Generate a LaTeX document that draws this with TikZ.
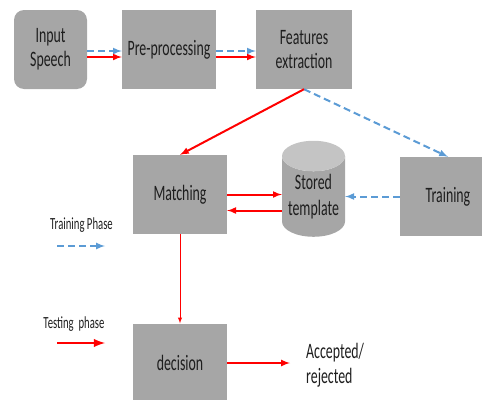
\documentclass[tikz,border=0pt]{standalone}
\usepackage{fontspec}
\setmainfont{Carlito}[FakeStretch=0.63]
\usetikzlibrary{shapes.geometric}
\definecolor{boxgray}{HTML}{A6A6A6}
\definecolor{topgray}{HTML}{C4C4C4}
\definecolor{trainblue}{HTML}{5B9BD5}
\definecolor{txtgray}{HTML}{1E1E1E}
\begin{document}
\begin{tikzpicture}[x=1pt,y=-1pt,>=latex,
    blk/.style={fill=boxgray, minimum width=94pt, minimum height=79pt, inner sep=0pt,
        align=center, text=txtgray, font=\fontsize{22}{24}\selectfont},
    test/.style={->, red, line width=2pt},
    train/.style={->, trainblue, line width=2pt, dash pattern=on 7pt off 4pt},
    legend/.style={text=txtgray, font=\fontsize{17}{19}\selectfont}]
    \useasboundingbox (0,0) rectangle (482,399);
    \clip (0,0) rectangle (482,399);
    % blocks
    \node[blk, rounded corners=10pt, minimum width=73pt] (inp) at (50.5,49.5) {Input\\Speech};
    \node[blk] (pre) at (169,49.5) {Pre-processing};
    \node[blk, minimum width=96pt] (feat) at (304,49.5) {Features\\extraction};
    \node[blk] (match) at (180,194.5) {Matching};
    \node[blk, minimum width=96pt] (trn) at (448,196.5) {Training};
    \node[blk] (dec) at (180,363) {decision};
    \node[cylinder, shape border rotate=90, aspect=0.6, minimum width=63pt, minimum height=96pt,
        cylinder uses custom fill, cylinder body fill=boxgray, cylinder end fill=topgray,
        inner sep=0pt, align=center, text=txtgray, font=\fontsize{22}{26}\selectfont] (stored) at (313.5,196.5) {Stored\\template};
    \node[anchor=west, align=left, inner sep=0pt, text=txtgray, font=\fontsize{22}{25}\selectfont] (acc) at (306,365) {Accepted/\\rejected};
    % legend
    \node[legend] (trleg) at (81.5,225) {Training Phase};
    \node[legend] (tsleg) at (74,324) {Testing\ \ phase};
    \coordinate (tra) at (57,246);
    \coordinate (trb) at (105,246);
    \coordinate (tsa) at (57,343);
    \coordinate (tsb) at (105,343);
    \draw[train] (tra) -- (trb);
    \draw[test, line width=2.8pt] (tsa) -- (tsb);
    % training path
    \draw[train] ([yshift=-1.5pt]inp.east) -- ([yshift=-1.5pt]pre.west);
    \draw[train] ([yshift=-1.5pt]pre.east) -- ([yshift=-1.5pt]feat.west);
    \draw[train] (feat.south) -- (trn.north);
    \draw[train] (trn.west) -- (trn.west -| stored.east);
    % testing path
    \draw[test] ([yshift=-7.5pt]inp.east) -- ([yshift=-7.5pt]pre.west);
    \draw[test] ([yshift=-7.5pt]pre.east) -- ([yshift=-7.5pt]feat.west);
    \draw[test] (feat.south) -- (match.north);
    \draw[test] (match.east) -- (match.east -| stored.west);
    \draw[test] ([yshift=-16pt]match.east -| stored.west) -- ([yshift=-16pt]match.east);
    \draw[test, line width=1pt] (match.south) -- (dec.north);
    \draw[test] (dec.east) -- ([xshift=-16pt]dec.east -| acc.west);
\end{tikzpicture}
\end{document}
